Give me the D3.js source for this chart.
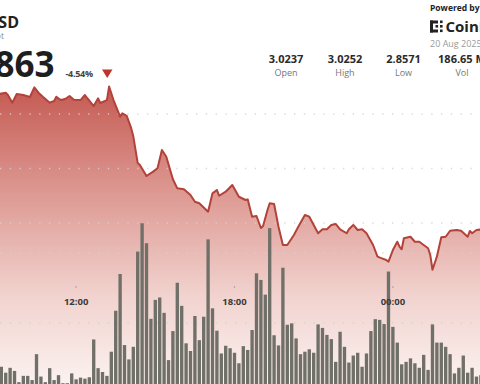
<!DOCTYPE html>
<html><head><meta charset="utf-8">
<script src="https://cdn.jsdelivr.net/npm/d3@7/dist/d3.min.js"></script>
<style>
html,body{margin:0;padding:0;background:#fff;overflow:hidden}
svg{display:block;font-family:"Open Sans","Noto Sans",sans-serif}
</style></head>
<body>
<script>
// ---- data ----
const pair = "XRP/USD";
const subtitle = "Spot";
const lastPrice = "2.8863";
const changePct = "-4.54%";
const statValues = ["3.0237", "3.0252", "2.8571", "186.65 M"];
const statLabels = ["Open", "High", "Low", "Vol"];
const dateLabel = "20 Aug 2025, 03:20";

const lineTimes = ["09:05","09:20","09:25","09:35","09:45","10:00","10:15","10:25","10:35","10:45",
"11:00","11:10","11:15","11:25","11:35","11:45","11:55","12:10","12:20","12:25",
"12:40","12:50","12:55","13:10","13:15","13:25","13:40","13:45","13:55","14:05",
"14:10","14:20","14:25","14:40","14:55","15:05","15:15","15:25","15:40","15:50",
"16:05","16:20","16:30","16:40","17:00","17:10","17:20","17:25","17:40","17:55",
"18:10","18:25","18:30","18:40","18:50","19:00","19:05","19:15","19:20","19:30",
"19:40","19:50","20:00","20:15","20:25","20:40","20:50","21:00","21:10","21:20",
"21:30","21:40","21:50","22:00","22:15","22:20","22:30","22:40","22:50","23:00",
"23:15","23:25","23:35","23:45","23:50","00:00","00:10","00:15","00:20","00:25",
"00:40","00:50","01:00","01:10","01:20","01:25","01:30","01:40","01:50","02:00",
"02:10","02:25","02:35","02:50","02:55","03:00","03:10","03:20"];
const linePrices = [3.0183,3.0195,3.0174,3.0104,3.0183,3.0174,3.0156,3.0245,3.0193,3.0156,
3.0104,3.0119,3.0159,3.0128,3.0138,3.0165,3.0131,3.0128,3.0174,3.0147,
3.0073,3.0144,3.0101,3.0128,3.0252,3.0128,2.9975,3.0006,2.9982,2.9872,
2.9795,2.9550,2.9532,2.9431,2.9471,2.9502,2.9670,2.9608,2.9401,2.9318,
2.9309,2.9257,2.9195,2.9181,2.9104,2.9272,2.9303,2.9250,2.9287,2.9349,
2.9241,2.9211,2.9217,2.9058,2.9064,2.8954,2.8972,2.9119,2.9181,2.9174,
2.8966,2.8798,2.8798,2.8890,2.8966,2.9073,2.9058,2.8982,2.8906,2.8942,
2.8942,2.8982,2.8991,2.8942,2.8906,2.8942,2.8982,2.8936,2.8942,2.8906,
2.8798,2.8691,2.8676,2.8661,2.8645,2.8752,2.8828,2.8783,2.8759,2.8860,
2.8874,2.8828,2.8828,2.8798,2.8768,2.8706,2.8571,2.8691,2.8869,2.8874,
2.8929,2.8936,2.8929,2.8874,2.8927,2.8906,2.8936,2.8940];

// volume per 10-minute bar (millions), first bar at 09:10
const volStart = "09:10";
const volumes = [0.75,0.58,0.72,0.63,0.31,0.49,0.49,0.37,1.11,0.47,
0.31,0.71,0.37,0.51,0.28,0.28,0.56,0.39,0.44,0.41,
0.45,1.53,0.71,0.60,0.49,1.18,2.35,3.40,1.37,0.96,
1.32,4.04,4.85,4.28,2.12,2.66,2.73,2.29,0.94,1.77,
3.15,2.49,1.42,1.20,2.20,1.51,2.18,4.39,2.42,1.78,
1.13,1.35,1.28,1.15,0.85,1.34,1.23,1.80,3.42,3.23,
2.81,4.71,1.65,1.36,3.58,1.95,1.99,1.56,1.11,1.18,
1.25,1.15,1.96,1.86,1.66,1.54,0.89,1.75,1.32,0.87,
1.07,1.15,0.75,1.13,1.77,2.11,2.09,1.97,3.47,1.89,
1.44,0.82,0.89,0.99,0.85,0.72,1.09,0.66,1.96,1.44,
1.44,1.32,1.11,0.56,0.72,1.07,0.58,0.72,0.47,0.51];

const tickLabels = ["12:00", "18:00", "00:00"];
const priceGrid = [3.00, 2.95, 2.90];
const volGrid = [2, 4];
const domainStart = "09:07", domainEnd = "03:18";

// ---- helpers ----
const day0 = new Date(2025, 7, 19);
function parseT(s) {
  const [h, m] = s.split(":").map(Number);
  const d = new Date(day0);
  if (h < 9) d.setDate(d.getDate() + 1);
  d.setHours(h, m, 0, 0);
  return d;
}

const W = 480, H = 384;
const svg = d3.select("body").append("svg").attr("width", W).attr("height", H);

const x = d3.scaleTime().domain([parseT(domainStart), parseT(domainEnd)]).range([0, W]);
const y = d3.scaleLinear().domain([2.90, 3.00]).range([223, 114]);
const yv = d3.scaleLinear().domain([0, 4]).range([393, 253]);

const lineData = lineTimes.map((t, i) => ({t: parseT(t), v: linePrices[i]}));
const t0 = parseT(volStart);
const volData = volumes.map((v, i) => ({t: d3.timeMinute.offset(t0, i * 10), v}));

// gradient
const defs = svg.append("defs");
const grad = defs.append("linearGradient").attr("id", "g").attr("gradientUnits", "userSpaceOnUse")
  .attr("x1", 0).attr("x2", 0).attr("y1", y(3.0252)).attr("y2", H);
[[0, "rgb(196,90,82)"], [0.4, "rgb(224,160,154)"], [0.7, "rgb(241,210,206)"], [1, "rgb(251,242,240)"]]
  .forEach(([o, c]) => grad.append("stop").attr("offset", o).attr("stop-color", c));

// area
svg.append("path").datum(lineData)
  .attr("d", d3.area().x(d => x(d.t)).y0(H).y1(d => y(d.v)))
  .attr("fill", "url(#g)");

// gridlines
const gridG = svg.append("g").attr("stroke", "#d2d2d2").attr("stroke-opacity", 0.85)
  .attr("stroke-width", 1.3).attr("stroke-dasharray", "1.3,8.5");
priceGrid.forEach(p => gridG.append("line").attr("x1", 0).attr("x2", W).attr("y1", y(p)).attr("y2", y(p)));
volGrid.forEach(v => gridG.append("line").attr("x1", 0).attr("x2", W).attr("y1", yv(v)).attr("y2", yv(v)));

// bars
const step = x(d3.timeMinute.offset(t0, 10)) - x(t0);
const bw = step * 0.76;
svg.append("g").selectAll("rect").data(volData).join("rect")
  .attr("x", d => x(d.t) - bw / 2).attr("width", bw)
  .attr("y", d => yv(d.v)).attr("height", d => yv(0) - yv(d.v))
  .attr("fill", "#707069");

// line
svg.append("path").datum(lineData)
  .attr("d", d3.line().x(d => x(d.t)).y(d => y(d.v)))
  .attr("fill", "none").attr("stroke", "#b3423a").attr("stroke-width", 2).attr("stroke-linejoin", "round");

// x ticks
const tickG = svg.append("g");
tickLabels.forEach(l => {
  const tx = x(parseT(l));
  tickG.append("circle").attr("cx", tx).attr("cy", 287).attr("r", 0.8).attr("fill", "#999");
  tickG.append("text").attr("x", tx).attr("y", 305).attr("text-anchor", "middle")
    .attr("font-size", 9.5).attr("font-weight", 700).attr("fill", "#3a3a3a").text(l);
});

// header
svg.append("text").attr("x", 19).attr("y", 28).attr("text-anchor", "end")
  .attr("font-size", 16).attr("font-weight", 700).attr("fill", "#222").text(pair);
svg.append("text").attr("x", 4).attr("y", 39).attr("text-anchor", "end")
  .attr("font-size", 8.5).attr("fill", "#888").text(subtitle);
svg.append("text").attr("x", 54.5).attr("y", 76.7).attr("text-anchor", "end")
  .attr("font-size", 35).attr("font-weight", 700).attr("fill", "#1e1e1e").text(lastPrice);
svg.append("text").attr("x", 65.5).attr("y", 76.5)
  .attr("font-size", 9).attr("font-weight", 700).attr("fill", "#444").attr("letter-spacing", -0.3).text(changePct);
svg.append("path").attr("d", "M102,69.5 L112.5,69.5 L107.25,78 Z").attr("fill", "#c0342b");

const statX = [286, 345, 403.5, 462];
statValues.forEach((v, i) => {
  svg.append("text").attr("x", statX[i]).attr("y", 63.3).attr("text-anchor", "middle")
    .attr("font-size", 11).attr("font-weight", 700).attr("fill", "#2a2a2a").text(v);
  svg.append("text").attr("x", statX[i]).attr("y", 75.5).attr("text-anchor", "middle")
    .attr("font-size", 9).attr("fill", "#777").text(statLabels[i]);
});

// powered by
svg.append("text").attr("x", 430).attr("y", 10.5)
  .attr("font-size", 8.5).attr("font-weight", 700).attr("fill", "#222").text("Powered by");
const logo = svg.append("g").attr("fill", "#222");
logo.append("rect").attr("x", 430).attr("y", 20.5).attr("width", 3).attr("height", 12);
logo.append("rect").attr("x", 430).attr("y", 20.5).attr("width", 8).attr("height", 3);
logo.append("rect").attr("x", 430).attr("y", 29.5).attr("width", 8).attr("height", 3);
[[440,20.5],[440,25],[440,29.5],[435.5,25]].forEach(([a,b]) =>
  logo.append("rect").attr("x", a).attr("y", b).attr("width", 2.6).attr("height", 2.6));
svg.append("text").attr("x", 445.5).attr("y", 31.5)
  .attr("font-size", 15).attr("font-weight", 700).attr("fill", "#222").text("CoinDesk");
svg.append("text").attr("x", 430).attr("y", 47)
  .attr("font-size", 9).attr("fill", "#9a9a9a").text(dateLabel);
</script>
</body></html>
